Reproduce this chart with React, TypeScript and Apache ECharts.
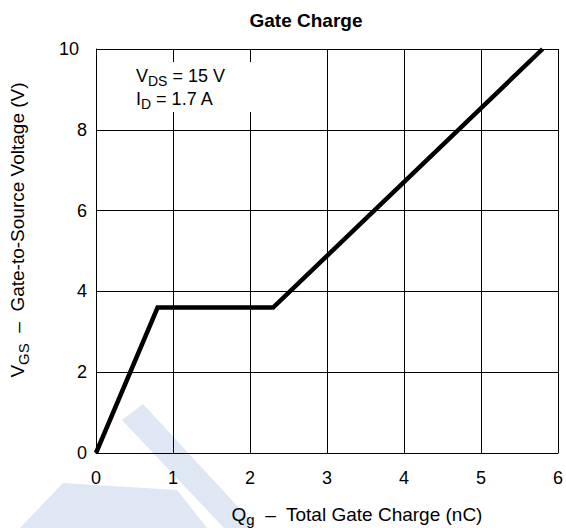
import React, { useEffect, useRef } from "react";
import * as echarts from "echarts";

const qg = [0, 0.8, 2.3, 5.8];
const vgs = [0, 3.6, 3.6, 10];
const xMin = 0, xMax = 6, xStep = 1;
const yMin = 0, yMax = 10, yStep = 2;
const titleText = "Gate Charge";
const annotLine1 = ["V", "DS", " = 15 V"];
const annotLine2 = ["I", "D", " = 1.7 A"];
const yNameParts = ["V", "GS", "  \u2013  Gate-to-Source Voltage (V)"];
const xNameParts = ["Q", "g", "  \u2013  Total Gate Charge (nC)"];

const FONT = "Liberation Sans, Arial, sans-serif";
const WM = "#dfe7f4";

function richStyles(main: number, sub: number, drop: number, lh: number) {
  const d = drop + 0.32 * (main - sub);
  return {
    n: { fontSize: main, fontFamily: FONT, color: "#000", lineHeight: lh },
    s: { fontSize: sub, fontFamily: FONT, color: "#000", lineHeight: lh, padding: [2 * d, 0, 0, 0] },
  };
}
const rt = (p: string[]) => `{n|${p[0]}}{s|${p[1]}}{n|${p[2]}}`;

export default function App() {
  const ref = useRef<HTMLDivElement>(null);
  useEffect(() => {
    if (!ref.current) return;
    const chart = echarts.init(ref.current, undefined, { renderer: "svg" });
    chart.setOption({
      animation: false,
      backgroundColor: "#fff",
      grid: { left: 96, top: 49, right: 6, bottom: 75, containLabel: false },
      xAxis: {
        type: "value",
        min: xMin,
        max: xMax,
        interval: xStep,
        axisLine: { show: true, lineStyle: { color: "#000", width: 1 } },
        axisTick: { show: false },
        splitLine: { show: true, lineStyle: { color: "#000", width: 1 } },
        axisLabel: { color: "#000", fontSize: 18, fontFamily: FONT, margin: 16 },
      },
      yAxis: {
        type: "value",
        min: yMin,
        max: yMax,
        interval: yStep,
        axisLine: { show: true, lineStyle: { color: "#000", width: 1 } },
        axisTick: { show: false },
        splitLine: { show: true, lineStyle: { color: "#000", width: 1 } },
        axisLabel: {
          color: "#000",
          fontSize: 18,
          fontFamily: FONT,
          margin: 9,
          formatter: (v: number) => (v === 10 ? `{a|${v}}` : `${v}`),
          rich: { a: { fontSize: 18, fontFamily: FONT, color: "#000", padding: [0, 8, 0, 0] } },
        },
      },
      graphic: [
        { type: "polygon", z: -10, silent: true, shape: { points: [[122, 420], [143, 404], [252, 522], [252, 528], [224, 528]] }, style: { fill: WM } },
        { type: "polygon", z: -10, silent: true, shape: { points: [[63, 483], [177, 490], [207, 528], [20, 528]] }, style: { fill: WM } },
        { type: "rect", z: 5, shape: { x: 126, y: 62, width: 138, height: 50 }, style: { fill: "#fff" } },
        {
          type: "text", z: 6, x: 136, y: 64,
          style: { text: rt(annotLine1) + "\n" + rt(annotLine2), rich: richStyles(18, 14, 4, 23), fill: "#000", textAlign: "left", textVerticalAlign: "top" },
        },
        {
          type: "text", z: 6, x: 306, y: 20,
          style: { text: titleText, font: `bold 19px ${FONT}`, fill: "#000", textAlign: "center", textVerticalAlign: "middle" },
        },
        {
          type: "text", z: 6, x: 357, y: 514,
          style: { text: rt(xNameParts), rich: richStyles(19, 15, 4, 24), fill: "#000", textAlign: "center", textVerticalAlign: "middle" },
        },
        {
          type: "text", z: 6, x: 17, y: 230, rotation: Math.PI / 2,
          style: { text: rt(yNameParts), rich: richStyles(19, 15, 5, 24), fill: "#000", textAlign: "center", textVerticalAlign: "middle" },
        },
      ],
      series: [
        {
          type: "line",
          data: qg.map((q, i) => [q, vgs[i]]),
          showSymbol: false,
          symbol: "none",
          lineStyle: { color: "#000", width: 4.5, join: "miter" },
          z: 10,
        },
      ],
    });
    return () => chart.dispose();
  }, []);
  return <div ref={ref} style={{ position: "fixed", left: 0, top: 0, width: 566, height: 528 }} />;
}
